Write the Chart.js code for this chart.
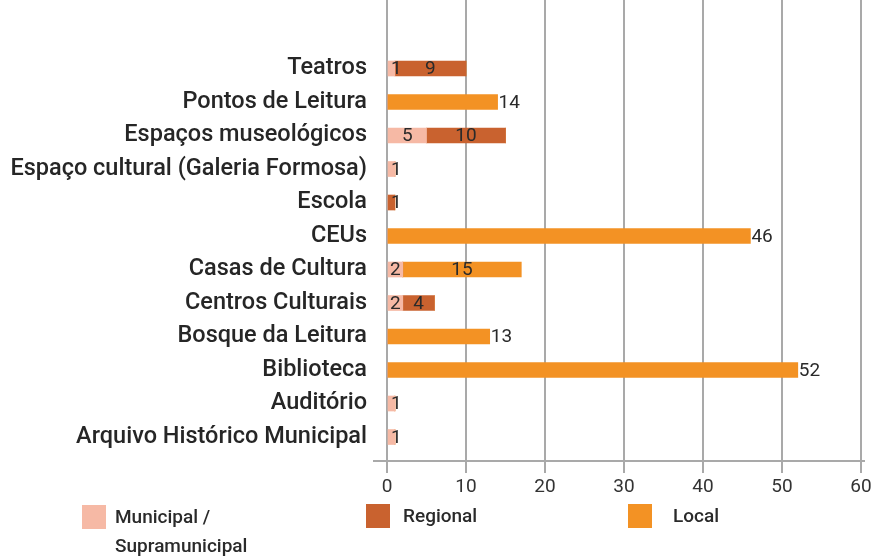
<!DOCTYPE html>
<html>
<head>
<meta charset="utf-8">
<script src="https://cdn.jsdelivr.net/npm/chart.js@4.4.1/dist/chart.umd.min.js"></script>
<style>
  html, body { margin: 0; padding: 0; background: #fff; }
  #wrap { position: relative; width: 872px; height: 560px; }
</style>
</head>
<body>
<div id="wrap"><canvas id="chart" width="872" height="560"></canvas></div>
<script>
// data (rows top to bottom)
const categories = [
  'Teatros', 'Pontos de Leitura', 'Espaços museológicos',
  'Espaço cultural (Galeria Formosa)', 'Escola', 'CEUs',
  'Casas de Cultura', 'Centros Culturais', 'Bosque da Leitura',
  'Biblioteca', 'Auditório', 'Arquivo Histórico Municipal'
];
const municipal = [1, 0, 5, 1, 0, 0, 2, 2, 0, 0, 1, 1];
const regional  = [9, 0, 10, 0, 1, 0, 0, 4, 0, 0, 0, 0];
const local     = [0, 14, 0, 0, 0, 46, 15, 0, 13, 52, 0, 0];
const seriesNames = ['Municipal / Supramunicipal', 'Regional', 'Local'];
const xTicks = [0, 10, 20, 30, 40, 50, 60];

const FONT = 'Roboto, "DejaVu Sans", sans-serif';
const GRID = '#a9a9a9';

const toPoints = arr => arr.map((v, i) => ({ x: v, y: i }));

// value labels on the bars
const barLabels = {
  id: 'barLabels',
  afterDatasetsDraw(chart) {
    const ctx = chart.ctx;
    const all = [municipal, regional, local];
    ctx.save();
    ctx.font = '19px ' + FONT;
    ctx.fillStyle = '#2a2a2a';
    ctx.textBaseline = 'middle';
    chart.data.datasets.forEach((ds, d) => {
      const meta = chart.getDatasetMeta(d);
      meta.data.forEach((bar, i) => {
        const v = all[d][i];
        if (!v) return;
        const parts = all.filter(a => a[i] > 0).length;
        const start = Math.min(bar.x, bar.base);
        const end = Math.max(bar.x, bar.base);
        if (v === 1) {
          ctx.textAlign = 'left';
          ctx.fillText(String(v), start + 3, bar.y + 1);
        } else if (parts === 1) {
          ctx.textAlign = 'left';
          ctx.fillText(String(v), end + 1, bar.y + 1);
        } else {
          ctx.textAlign = 'center';
          ctx.fillText(String(v), (start + end) / 2, bar.y + 1);
        }
      });
    });
    ctx.restore();
  }
};

// axis line runs a bit past both ends, and the legend sits under it
const extras = {
  id: 'extras',
  afterDraw(chart) {
    const ctx = chart.ctx;
    const area = chart.chartArea;
    ctx.save();
    ctx.strokeStyle = GRID;
    ctx.lineWidth = 2;
    ctx.beginPath();
    ctx.moveTo(area.left - 14, area.bottom);
    ctx.lineTo(area.right + 4, area.bottom);
    ctx.stroke();

    const boxes = [[82, 505, 115], [366, 504, 403], [628, 504, 673]];
    ctx.font = '500 19px ' + FONT;
    ctx.textAlign = 'left';
    ctx.textBaseline = 'middle';
    chart.data.datasets.forEach((ds, d) => {
      const [bx, by, tx] = boxes[d];
      ctx.fillStyle = ds.backgroundColor;
      ctx.fillRect(bx, by, 24, 24);
      ctx.fillStyle = '#2a2a2a';
      const lines = ds.label.split(' / ');
      if (lines.length > 1) {
        ctx.fillText(lines[0] + ' /', tx, by + 13);
        ctx.fillText(lines[1], tx, by + 42);
      } else {
        ctx.fillText(ds.label, tx, by + 13);
      }
    });
    ctx.restore();
  }
};

new Chart(document.getElementById('chart').getContext('2d'), {
  type: 'bar',
  data: {
    datasets: [
      { label: seriesNames[0], data: toPoints(municipal), backgroundColor: '#f6b9a5' },
      { label: seriesNames[1], data: toPoints(regional), backgroundColor: '#c9622f' },
      { label: seriesNames[2], data: toPoints(local), backgroundColor: '#f39224' }
    ]
  },
  options: {
    responsive: false,
    animation: false,
    devicePixelRatio: 1,
    indexAxis: 'y',
    barThickness: 15,
    layout: { padding: { top: 0, right: 11, left: 0, bottom: 0 } },
    plugins: {
      legend: { display: false },
      tooltip: { enabled: false }
    },
    scales: {
      x: {
        type: 'linear',
        stacked: true,
        min: 0,
        max: 60,
        afterBuildTicks: scale => { scale.ticks = xTicks.map(v => ({ value: v })); },
        afterFit: scale => { scale.height = 99; scale.paddingLeft = 0; scale.paddingRight = 0; },
        grid: { color: GRID, lineWidth: 2, tickLength: 12, drawTicks: true },
        border: { display: false },
        ticks: { color: '#333', padding: 3, font: { family: FONT, size: 19 } }
      },
      y: {
        type: 'linear',
        stacked: true,
        reverse: true,
        offset: false,
        min: -2.045,
        max: 11.716,
        afterFit: scale => { scale.width = 387; scale.paddingTop = 0; scale.paddingBottom = 0; },
        grid: { display: false, offset: false },
        border: { display: false },
        ticks: {
          stepSize: 1,
          autoSkip: false,
          includeBounds: false,
          padding: 12,
          color: '#262626',
          font: { family: FONT, size: 23.5, weight: '500' },
          callback: v => categories[v] || ''
        }
      }
    }
  },
  plugins: [barLabels, extras]
});
</script>
</body>
</html>
